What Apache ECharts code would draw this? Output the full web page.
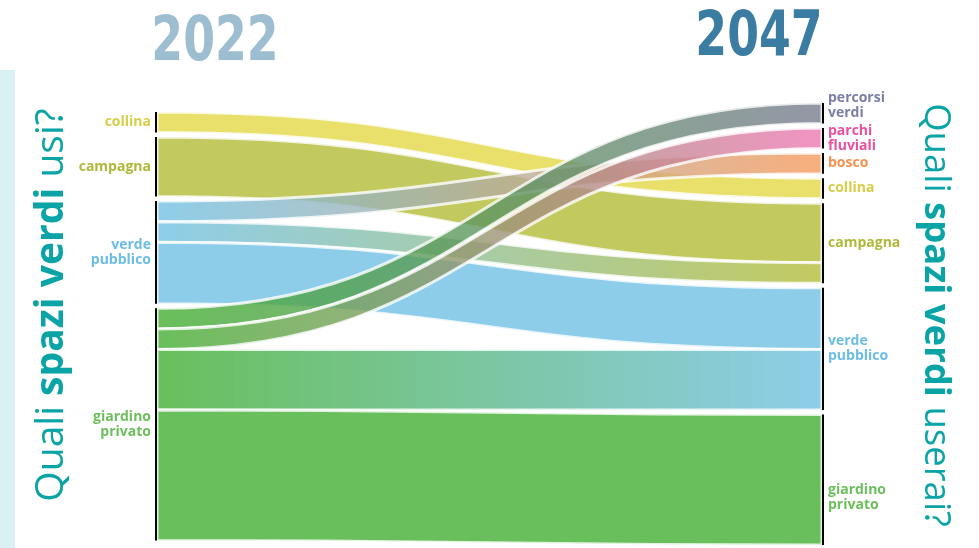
<!DOCTYPE html>
<html><head><meta charset="utf-8">
<script src="https://cdn.jsdelivr.net/npm/echarts@6/dist/echarts.min.js"></script>
<style>html,body{margin:0;padding:0;background:#fff}#c{width:979px;height:548px}</style>
</head><body><div id="c"></div>
<script>
// ---- data ----
const years = ['2022', '2047'];
const nodes2022 = ['collina', 'campagna', 'verde pubblico', 'giardino privato'];
const labels2022 = ['collina', 'campagna', 'verde\npubblico', 'giardino\nprivato'];
const nodes2047 = ['percorsi verdi', 'parchi fluviali', 'bosco', 'collina', 'campagna', 'verde pubblico', 'giardino privato'];
const labels2047 = ['percorsi\nverdi', 'parchi\nfluviali', 'bosco', 'collina', 'campagna', 'verde\npubblico', 'giardino\nprivato'];
const flowFrom = ['collina', 'campagna', 'verde pubblico', 'verde pubblico', 'verde pubblico', 'giardino privato', 'giardino privato', 'giardino privato', 'giardino privato'];
const flowTo   = ['collina', 'campagna', 'bosco', 'campagna', 'verde pubblico', 'percorsi verdi', 'parchi fluviali', 'verde pubblico', 'giardino privato'];
const flowValues = [20, 58, 20, 20, 60, 20, 20, 59, 127];
const titleLeft = ['Quali ', 'spazi verdi', ' usi?'];
const titleRight = ['Quali ', 'spazi verdi', ' userai?'];

// ---- styles ----
const fillColor = {
  'collina': '#e4d846', 'campagna': '#b3bc37', 'verde pubblico': '#72c1e4',
  'giardino privato': '#44af32', 'percorsi verdi': '#797d90',
  'parchi fluviali': '#ef79b4', 'bosco': '#f69a5c'
};
const labelColor = {
  'collina': '#d8ce48', 'campagna': '#b0b83a', 'verde pubblico': '#6bbde6',
  'giardino privato': '#6cbf5c', 'percorsi verdi': '#7b7ea6',
  'parchi fluviali': '#ec4f9e', 'bosco': '#f6914f'
};
const rightLabelShift = { 'percorsi verdi': -8, 'giardino privato': 18 };
const FONT = '"Open Sans", "Noto Sans", sans-serif';
const YEARFONT = 'bold 62px "Liberation Sans Narrow", "DejaVu Sans Condensed", sans-serif';
const TEAL = '#0aa4a7';

const nodes = [];
// two empty spacer entries at the top of the 2022 column (value 0, not drawn)
['spacer-a', 'spacer-b'].forEach(s => nodes.push({
  name: s, depth: 0, itemStyle: { opacity: 0 }, label: { show: false }
}));
nodes2022.forEach((n, i) => nodes.push({
  name: years[0] + '|' + n, depth: 0,
  label: { position: 'left', distance: 4, formatter: labels2022[i], color: labelColor[n], align: 'right' }
}));
nodes2047.forEach((n, i) => nodes.push({
  name: years[1] + '|' + n, depth: 1,
  label: { position: 'right', distance: 4, formatter: labels2047[i], color: labelColor[n], align: 'left',
           offset: [0, rightLabelShift[n] || 0] }
}));

const links = flowValues.map((v, i) => {
  const a = fillColor[flowFrom[i]], b = fillColor[flowTo[i]];
  const color = a === b ? a : new echarts.graphic.LinearGradient(0, 0, 1, 0, [
    { offset: 0, color: a }, { offset: 1, color: b }
  ]);
  return {
    source: years[0] + '|' + flowFrom[i],
    target: years[1] + '|' + flowTo[i],
    value: v,
    lineStyle: { color: color }
  };
});

function richTitle(parts) {
  return '{r|' + parts[0] + '}{b|' + parts[1] + '}{r|' + parts[2] + '}';
}
function richStyle(size) {
  return {
    r: { fontFamily: FONT, fontSize: size, fontWeight: 'normal', fill: TEAL, color: TEAL },
    b: { fontFamily: FONT, fontSize: size, fontWeight: 'bold', fill: TEAL, color: TEAL }
  };
}

const chart = echarts.init(document.getElementById('c'), null, { renderer: 'canvas' });
chart.setOption({
  animation: false,
  backgroundColor: '#fff',
  graphic: [
    { type: 'rect', left: 0, top: 70, shape: { width: 15, height: 478 }, style: { fill: '#d9f1f3' }, silent: true },
    { type: 'text', x: 215, y: 44, scaleX: 0.82, style: { text: years[0], font: YEARFONT, fill: '#9dbdd1', align: 'center', verticalAlign: 'middle' } },
    { type: 'text', x: 759, y: 39, scaleX: 0.82, style: { text: years[1], font: YEARFONT, fill: '#3b7ca3', align: 'center', verticalAlign: 'middle' } },
    { type: 'text', x: 52, y: 305, rotation: Math.PI / 2,
      style: { text: richTitle(titleLeft), align: 'center', verticalAlign: 'middle', rich: richStyle(39) } },
    { type: 'text', x: 935, y: 315, rotation: -Math.PI / 2,
      style: { text: richTitle(titleRight), align: 'center', verticalAlign: 'middle', rich: richStyle(36.5) } }
  ],
  series: [{
    type: 'sankey',
    left: 155, right: 155, top: 103, bottom: 3,
    nodeWidth: 2, nodeGap: 4.5,
    layoutIterations: 0,
    nodeAlign: 'left',
    draggable: false,
    emphasis: { disabled: true },
    itemStyle: { color: '#000', borderWidth: 0 },
    lineStyle: { opacity: 0.8, curveness: 0.5, borderColor: '#fff', borderWidth: 3 },
    label: { fontFamily: FONT, fontWeight: 'bold', fontSize: 14, lineHeight: 15 },
    data: nodes,
    links: links
  }]
});
</script></body></html>
